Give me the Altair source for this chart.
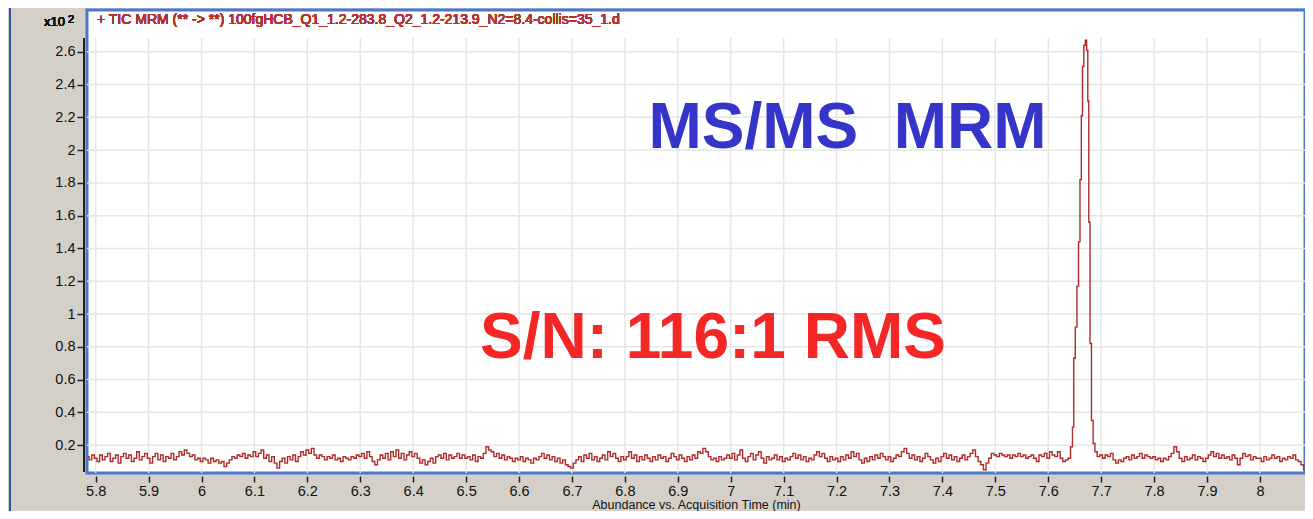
import altair as alt
import numpy as np
import pandas as pd

# ---------------- data ----------------
# noise baseline before the peak, sampled every 0.005 min starting at 5.785
pre_start = 5.785
pre_vals = [
    0.13, 0.11, 0.14,
    0.12, 0.10, 0.14, 0.11, 0.13, 0.15, 0.10, 0.12, 0.14, 0.09, 0.13, 0.15, 0.12, 0.14, 0.10, 0.12, 0.16, 0.11, 0.13, 0.15,
    0.12, 0.09, 0.13, 0.15, 0.11, 0.14, 0.10, 0.13, 0.12, 0.15, 0.11, 0.13, 0.16, 0.14, 0.17, 0.15, 0.13, 0.14, 0.11, 0.12,
    0.10, 0.12, 0.11, 0.09, 0.12, 0.10, 0.11, 0.09, 0.10, 0.07, 0.09, 0.11, 0.13, 0.12, 0.14, 0.13, 0.15, 0.12, 0.14, 0.13,
    0.16, 0.13, 0.15, 0.17, 0.12, 0.14, 0.10, 0.13, 0.09, 0.06, 0.10, 0.12, 0.09, 0.13, 0.11, 0.14, 0.10, 0.13, 0.16, 0.14,
    0.17, 0.15, 0.18, 0.14, 0.12, 0.14, 0.13, 0.11, 0.13, 0.12, 0.14, 0.11, 0.12, 0.10, 0.13, 0.12, 0.11, 0.13, 0.12, 0.14,
    0.13, 0.15, 0.12, 0.16, 0.13, 0.10, 0.08, 0.11, 0.14, 0.12, 0.15, 0.11, 0.16, 0.13, 0.17, 0.12, 0.15, 0.11, 0.14, 0.16,
    0.13, 0.15, 0.12, 0.09, 0.11, 0.08, 0.10, 0.12, 0.09, 0.13, 0.14, 0.12, 0.15, 0.11, 0.14, 0.12, 0.13, 0.15, 0.12, 0.14,
    0.12, 0.13, 0.11, 0.14, 0.10, 0.13, 0.12, 0.15, 0.19, 0.17, 0.16, 0.13, 0.15, 0.12, 0.14, 0.11, 0.13, 0.12, 0.10, 0.12,
    0.11, 0.13, 0.10, 0.12, 0.11, 0.09, 0.12, 0.11, 0.13, 0.15, 0.12, 0.14, 0.11, 0.13, 0.10, 0.12, 0.09, 0.11, 0.08, 0.07,
    0.06, 0.09, 0.11, 0.13, 0.10, 0.14, 0.12, 0.15, 0.11, 0.13, 0.10, 0.12, 0.14, 0.11, 0.16, 0.13, 0.15, 0.12, 0.10, 0.13,
    0.11, 0.13, 0.16, 0.12, 0.14, 0.10, 0.13, 0.11, 0.14, 0.12, 0.10, 0.13, 0.11, 0.14, 0.12, 0.13, 0.10, 0.12, 0.15, 0.13,
    0.11, 0.14, 0.12, 0.10, 0.13, 0.11, 0.14, 0.12, 0.16, 0.15, 0.18, 0.16, 0.13, 0.11, 0.12, 0.10, 0.13, 0.11, 0.12, 0.14,
    0.12, 0.15, 0.11, 0.14, 0.17, 0.12, 0.10, 0.13, 0.15, 0.11, 0.14, 0.16, 0.12, 0.09, 0.13, 0.11, 0.12, 0.14, 0.11, 0.13,
    0.10, 0.12, 0.11, 0.13, 0.15, 0.12, 0.14, 0.11, 0.13, 0.10, 0.12, 0.11, 0.14, 0.16, 0.13, 0.15, 0.12, 0.10, 0.13, 0.11,
    0.12, 0.10, 0.13, 0.11, 0.14, 0.12, 0.16, 0.13, 0.15, 0.11, 0.09, 0.12, 0.10, 0.13, 0.11, 0.14, 0.12, 0.15, 0.13, 0.11,
    0.13, 0.10, 0.12, 0.14, 0.13, 0.16, 0.18, 0.15, 0.12, 0.14, 0.11, 0.13, 0.10, 0.12, 0.15, 0.13, 0.11, 0.09, 0.12, 0.10,
    0.13, 0.15, 0.12, 0.14, 0.11, 0.13, 0.10, 0.12, 0.14, 0.11, 0.13, 0.15, 0.17, 0.13, 0.10, 0.08, 0.05, 0.09, 0.12, 0.15,
    0.14, 0.13, 0.15, 0.14, 0.13, 0.14, 0.12, 0.14, 0.13, 0.15, 0.13, 0.14, 0.12, 0.13, 0.14, 0.12, 0.10, 0.14, 0.13, 0.15,
    0.12, 0.16, 0.14, 0.13, 0.16, 0.12, 0.10, 0.11, 0.12,
]
# the MRM peak
peak_t = [7.6443, 7.6473, 7.6492, 7.6530, 7.6556, 7.6587, 7.6613, 7.6638, 7.6657,
          7.6689, 7.6713, 7.6738, 7.6757, 7.6776, 7.6802, 7.6832, 7.6865]
peak_v = [0.19, 0.31, 0.73, 0.92, 1.17, 1.44, 1.82, 2.21, 2.51,
          2.64, 2.67, 2.61, 2.30, 1.56, 0.82, 0.35, 0.21]
# noise baseline after the peak, every 0.005 min starting at 7.690
post_start = 7.690
post_vals = [
    0.16, 0.13, 0.14, 0.12, 0.14, 0.13, 0.15, 0.11, 0.09, 0.11, 0.10, 0.12, 0.13, 0.11, 0.14, 0.12, 0.13, 0.15, 0.12, 0.14, 0.13, 0.12,
    0.13, 0.11, 0.12, 0.10, 0.12, 0.11, 0.13, 0.15, 0.19, 0.16, 0.12, 0.10, 0.13, 0.11, 0.12, 0.14, 0.11, 0.13, 0.12, 0.10,
    0.12, 0.14, 0.16, 0.13, 0.15, 0.12, 0.14, 0.12, 0.13, 0.11, 0.14, 0.12, 0.08, 0.12, 0.15, 0.13, 0.14, 0.11, 0.13, 0.12,
    0.12, 0.10, 0.13, 0.11, 0.12, 0.14, 0.12, 0.13, 0.10, 0.12, 0.11, 0.13, 0.12, 0.14, 0.11, 0.10, 0.08, 0.05,
]
step = 0.005

x_ticks = [5.8, 5.9, 6.0, 6.1, 6.2, 6.3, 6.4, 6.5, 6.6, 6.7, 6.8, 6.9, 7.0,
           7.1, 7.2, 7.3, 7.4, 7.5, 7.6, 7.7, 7.8, 7.9, 8.0]
y_ticks = [0.2, 0.4, 0.6, 0.8, 1.0, 1.2, 1.4, 1.6, 1.8, 2.0, 2.2, 2.4, 2.6]

title_text = "+ TIC MRM (** -> **) 100fgHCB_Q1_1.2-283.8_Q2_1.2-213.9_N2=8.4-collis=35_1.d"
x_title = "Abundance vs. Acquisition Time (min)"
ann_text = ["MS/MS\u00a0\u00a0MRM", "S/N: 116:1 RMS"]
ann_x = [7.2207, 6.9665]
ann_y = [2.012, 0.731]
ann_color = ["#3535c9", "#f42626"]

x_domain = [5.7836, 8.0852]
y_domain = [0.030, 2.855]

# ---------------- build tables ----------------
pre_t = [pre_start + step * i for i in range(len(pre_vals))]
post_t = [post_start + step * i for i in range(len(post_vals))]
trace = pd.DataFrame({"t": pre_t + peak_t + post_t,
                      "v": pre_vals + peak_v + post_vals})
gx = pd.DataFrame({"t": x_ticks})
gy = pd.DataFrame({"v": y_ticks})
ann = pd.DataFrame({"text": ann_text, "t": ann_x, "v": ann_y, "c": ann_color})

W, H = 1218, 463
xs = alt.Scale(domain=x_domain, nice=False, zero=False)
ys = alt.Scale(domain=y_domain, nice=False, zero=False)
GRID = "#e6e6e6"
FONT = "Liberation Sans"

X_AX = alt.Axis(values=x_ticks, format="~g", title=x_title, offset=3,
                domain=False, grid=False, tickSize=6, tickColor="#222",
                tickWidth=1.5, labelFontSize=14.5, labelColor="#111",
                labelPadding=2, labelFont=FONT, titleFont=FONT,
                titleFontSize=12.5, titleFontWeight="normal",
                titleColor="#111", titlePadding=1, labelFlush=False)
Y_AX = alt.Axis(values=y_ticks, format="~g", title=None, offset=3,
                domain=False, grid=False, tickSize=7, tickColor="#222",
                tickWidth=1.5, labelFontSize=14.5, labelColor="#111",
                labelPadding=2, labelFont=FONT)

vgrid = alt.Chart(gx).mark_rule(color=GRID, strokeWidth=1.5).encode(
    x=alt.X("t:Q", scale=xs, axis=X_AX),
    y=alt.value(28), y2=alt.value(H))
hgrid = alt.Chart(gy).mark_rule(color=GRID, strokeWidth=1.5).encode(
    y=alt.Y("v:Q", scale=ys, axis=Y_AX),
    x=alt.value(0), x2=alt.value(W))

line = alt.Chart(trace).mark_line(color="#b02a2a", strokeWidth=1.4, interpolate="step").encode(
    x=alt.X("t:Q", scale=xs, axis=X_AX),
    y=alt.Y("v:Q", scale=ys, axis=Y_AX),
    order="t:Q")

yaxis_line = alt.Chart(gy).mark_rule(color="#222", strokeWidth=1.5).encode(
    x=alt.value(-3), y=alt.value(28), y2=alt.value(H - 1))
left_border = alt.Chart(gy).mark_rule(color="#2a52a8", strokeWidth=2).encode(
    x=alt.value(-77), y=alt.value(-2), y2=alt.value(H + 40))

top_title = alt.Chart(gy).mark_text(align="left", baseline="middle", fontSize=14,
                                    font=FONT, color="#b53232").encode(
    x=alt.value(10), y=alt.value(10), text=alt.value(title_text))
x10 = alt.Chart(gy).mark_text(align="right", baseline="middle", fontSize=13,
                              font=FONT, color="#111").encode(
    x=alt.value(-22), y=alt.value(12), text=alt.value("x10"))
sup2 = alt.Chart(gy).mark_text(align="left", baseline="middle", fontSize=11,
                               font=FONT, color="#111").encode(
    x=alt.value(-19), y=alt.value(10), text=alt.value("2"))

annot = alt.Chart(ann).mark_text(align="center", baseline="alphabetic", fontSize=64,
                                 font=FONT, fontWeight="bold").encode(
    x=alt.X("t:Q", scale=xs, axis=X_AX),
    y=alt.Y("v:Q", scale=ys, axis=Y_AX),
    text="text:N",
    color=alt.Color("c:N", scale=None))

chart = alt.layer(vgrid, hgrid, line, annot, yaxis_line, left_border, top_title, x10, sup2).properties(
    width=W, height=H,
    autosize=alt.AutoSizeParams(type="none"),
    padding={"left": 79, "top": 2, "right": 0, "bottom": 38},
    background="#d4d0c8",
).configure_view(fill="white", stroke="#4a78d0", strokeWidth=3)

chart.save("out.html", embed_options={"renderer": "svg", "actions": False})
